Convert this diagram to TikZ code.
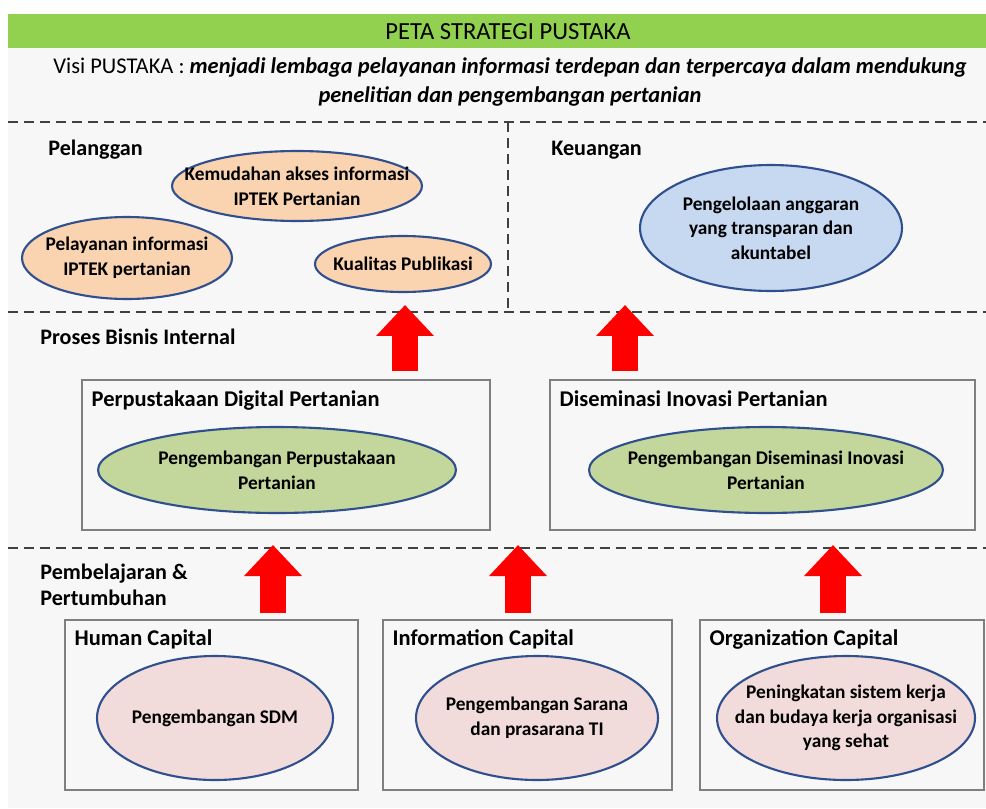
\documentclass[tikz,border=0pt]{standalone}
\usepackage{fontspec}
\setmainfont{Carlito}
\usepackage{tikz}
\usetikzlibrary{positioning}
\usetikzlibrary{arrows.meta}
\usetikzlibrary{shapes.geometric}
\definecolor{barGreen}{HTML}{92D050}
\definecolor{bgGray}{HTML}{F7F7F7}
\definecolor{peach}{HTML}{FAD3B0}
\definecolor{skyBlue}{HTML}{C6D9F1}
\definecolor{oliveGreen}{HTML}{C3D69B}
\definecolor{rosePink}{HTML}{F2DCDB}
\definecolor{rimBlue}{HTML}{2F4F8F}
\definecolor{boxGray}{HTML}{7F7F7F}
\definecolor{dashGray}{HTML}{404040}
\tikzset{
  goal/.style={ellipse, draw=rimBlue, line width=1.2pt, align=center, inner xsep=-0.8cm, inner ysep=-0.2cm,
    font=\fontsize{11}{14}\selectfont\bfseries},
  panel/.style={draw=boxGray, line width=0.8pt, fill=bgGray, inner sep=0pt},
  paneltitle/.style={inner sep=0pt, font=\fontsize{12.8}{15}\selectfont\bfseries},
  perspective/.style={inner sep=0pt, anchor=west, align=left, font=\fontsize{12.6}{14.7}\selectfont\bfseries},
  divider/.style={dashGray, line width=1.1pt, dash pattern=on 5.7pt off 3.4pt},
  uparrow/.style={red, line width=0.52cm, -{Triangle[width=1.12cm, length=0.62cm]}}
}

\begin{document}
\begin{tikzpicture}[x=0.02cm, y=-0.02cm]
\useasboundingbox (0,0) rectangle (986,808);
\fill[bgGray] (8,48) rectangle (986,808);
\fill[barGreen] (8,14) rectangle (986,48);
\node (title) at (508,32) {\fontsize{14}{16}\selectfont PETA STRATEGI PUSTAKA};
\node[align=center, inner sep=0pt, font=\fontsize{12.8}{16}\selectfont] (visi) at (510,82)
  {Visi PUSTAKA : \textbf{\textit{menjadi lembaga pelayanan informasi terdepan dan terpercaya dalam mendukung}}\\
   \textbf{\textit{penelitian dan pengembangan pertanian}}};

% garis pembatas
\draw[divider] (8,122) -- (986,122);
\draw[divider] (508,122) -- (508,312);
\draw[divider] (8,312) -- (986,312);
\draw[divider] (8,548) -- (986,548);

% pelanggan dan keuangan
\node[perspective] (pelanggan) at (48,150) {Pelanggan};
\node[perspective] (keuangan) at (551,150) {Keuangan};
\node[goal, fill=peach, minimum width=5cm, minimum height=1.4cm] (kemudahan) at (297,186)
  {Kemudahan akses informasi\\IPTEK Pertanian};
\node[goal, fill=peach, minimum width=4.2cm, minimum height=1.64cm] (pelayanan) at (127,258)
  {Pelayanan informasi\\IPTEK pertanian};
\node[goal, fill=peach, minimum width=3.52cm, minimum height=1.12cm] (kualitas) at (403,264)
  {Kualitas Publikasi};
\node[goal, fill=skyBlue, minimum width=5.24cm, minimum height=2.52cm] (anggaran) at (771,228)
  {Pengelolaan anggaran\\yang transparan dan\\akuntabel};

% proses bisnis internal
\node[perspective] (proses) at (40,337) {Proses Bisnis Internal};
\node[panel, minimum width=8.16cm, minimum height=3cm] (digital) at (286,455) {};
\node[panel, minimum width=8.5cm, minimum height=3cm] (diseminasi) at (762.5,455) {};
\node[paneltitle, below right=0.22cm and 0.2cm of digital.north west] (digitalT) {Perpustakaan Digital Pertanian};
\node[paneltitle, below right=0.22cm and 0.2cm of diseminasi.north west] (diseminasiT) {Diseminasi Inovasi Pertanian};
\node[goal, fill=oliveGreen, minimum width=7.16cm, minimum height=1.72cm] (pustaka) at (277,470)
  {Pengembangan Perpustakaan\\Pertanian};
\node[goal, fill=oliveGreen, minimum width=7.08cm, minimum height=1.72cm] (inovasi) at (766,470)
  {Pengembangan Diseminasi Inovasi\\Pertanian};

% pembelajaran dan pertumbuhan
\node[perspective] (belajar) at (40,585) {Pembelajaran \&\\Pertumbuhan};
\node[panel, minimum width=5.86cm, minimum height=3.4cm] (human) at (211.5,705) {};
\node[panel, minimum width=5.78cm, minimum height=3.4cm] (info) at (527.5,705) {};
\node[panel, minimum width=5.68cm, minimum height=3.4cm] (org) at (842,705) {};
\node[paneltitle, below right=0.2cm and 0.2cm of human.north west] (humanT) {Human Capital};
\node[paneltitle, below right=0.2cm and 0.2cm of info.north west] (infoT) {Information Capital};
\node[paneltitle, below right=0.2cm and 0.2cm of org.north west] (orgT) {Organization Capital};
\node[goal, fill=rosePink, minimum width=4.72cm, minimum height=2.48cm] (sdm) at (215,718)
  {Pengembangan SDM};
\node[goal, fill=rosePink, minimum width=4.84cm, minimum height=2.48cm] (sarana) at (537,718)
  {Pengembangan Sarana\\dan prasarana TI};
\node[goal, fill=rosePink, minimum width=5.16cm, minimum height=2.48cm] (budaya) at (846,718)
  {Peningkatan sistem kerja\\dan budaya kerja organisasi\\yang sehat};

% panah
\coordinate (tipA) at (405,305);
\coordinate (tipB) at (625,305);
\coordinate (tipC) at (273,545);
\coordinate (tipD) at (518,545);
\coordinate (tipE) at (833,545);
\draw[uparrow, shorten <=0.16cm] (digital.north -| tipA) -- (tipA);
\draw[uparrow, shorten <=0.16cm] (diseminasi.north -| tipB) -- (tipB);
\draw[uparrow, shorten <=0.12cm] (human.north -| tipC) -- (tipC);
\draw[uparrow, shorten <=0.12cm] (info.north -| tipD) -- (tipD);
\draw[uparrow, shorten <=0.12cm] (org.north -| tipE) -- (tipE);
\end{tikzpicture}
\end{document}
